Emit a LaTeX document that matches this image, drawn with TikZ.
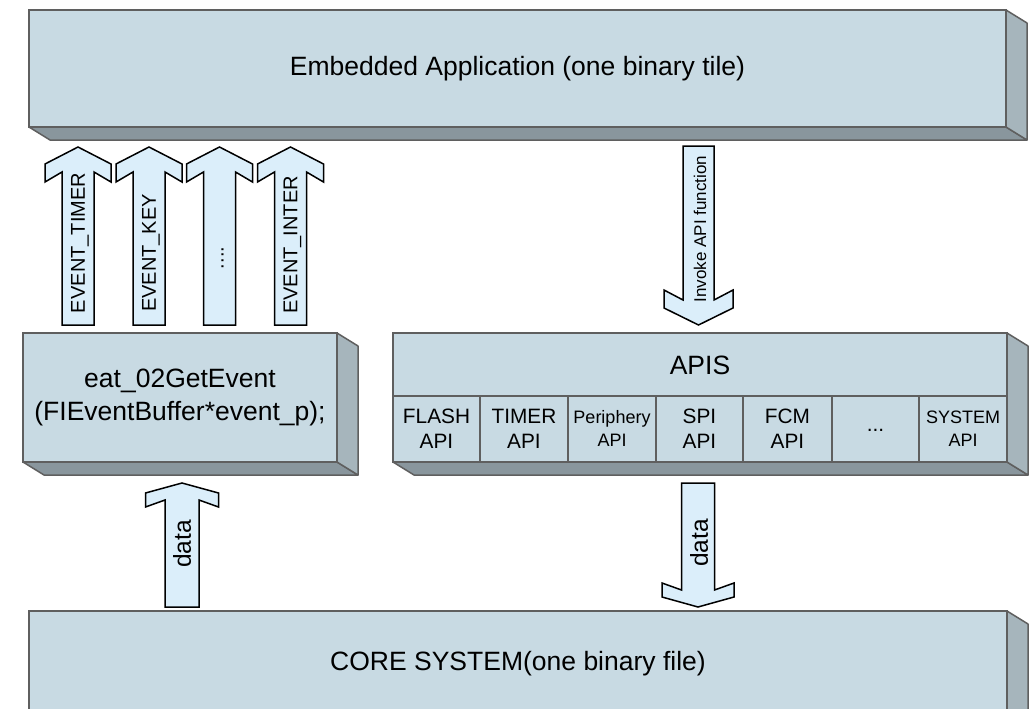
\documentclass[tikz,border=0pt]{standalone}
\usepackage{fontspec}
\setmainfont{Liberation Sans}
\usetikzlibrary{calc}

\definecolor{facefront}{HTML}{C8DAE3}
\definecolor{facebottom}{HTML}{89969D}
\definecolor{faceside}{HTML}{A6B5BC}
\definecolor{faceedge}{HTML}{5F5F5F}
\definecolor{arrowfill}{HTML}{DBEEFA}

\newcommand\fsz[2]{\fontsize{#1}{#2}\selectfont}

\tikzset{
  face/.style={draw=faceedge, fill=facefront, line width=1.5pt, inner sep=0pt,
    outer sep=0pt, rectangle, align=center},
  bottomface/.style={draw=faceedge, fill=facebottom, line width=1.5pt, line join=round},
  sideface/.style={draw=faceedge, fill=faceside, line width=1.5pt, line join=round},
  blockarrow/.style={draw=black, fill=arrowfill, line width=1.5pt, line join=miter},
  arrowtext/.style={inner sep=0pt, rotate=90},
  cell/.style={face, minimum height=66pt, font=\fsz{20.8}{25}},
  smallcell/.style={cell, font=\fsz{18}{23}},
}

% bottom and right faces of an extruded box
\newcommand\Extrude[1]{%
  \draw[bottomface] (#1.south west) -- (#1.south east) -- ++(21,13)
    -- ($(#1.south west)+(21,13)$) -- cycle;
  \draw[sideface] (#1.north east) -- ++(21,13) -- ($(#1.south east)+(21,13)$)
    -- (#1.south east) -- cycle;}

% block arrow pointing up: centre x, tip y, tail y, shaft half width,
% head half width, head side start, head side end, shaft junction
\newcommand\BlkUp[8]{%
  \draw[blockarrow] (#1,#2) -- (#1-#5,#2+#6) -- (#1-#5,#2+#7) -- (#1-#4,#2+#8)
    -- (#1-#4,#3) -- (#1+#4,#3) -- (#1+#4,#2+#8) -- (#1+#5,#2+#7)
    -- (#1+#5,#2+#6) -- cycle;}
% block arrow pointing down, same parameters
\newcommand\BlkDown[8]{%
  \draw[blockarrow] (#1,#2) -- (#1-#5,#2-#6) -- (#1-#5,#2-#7) -- (#1-#4,#2-#8)
    -- (#1-#4,#3) -- (#1+#4,#3) -- (#1+#4,#2-#8) -- (#1+#5,#2-#7)
    -- (#1+#5,#2-#6) -- cycle;}

\begin{document}
\begin{tikzpicture}[x=1pt, y=-1pt]
\clip (0,0) rectangle (1033,709);
\fill[white] (0,0) rectangle (1033,709);

% application tile
\node[face, minimum width=977pt, minimum height=117pt, font=\fsz{26.5}{32}]
  (app) at (517.5,68.5) {Embedded Application (one binary tile)};
\Extrude{app}

% event dispatcher
\node[face, minimum width=314pt, minimum height=129pt, font=\fsz{26.5}{33}]
  (getevent) at (180,397.5) {eat\_02GetEvent\\(FIEventBuffer*event\_p);};
\Extrude{getevent}

% API layer
\node[face, minimum width=614pt, minimum height=129pt] (apis) at (700,397.5) {};
\Extrude{apis}
\node[inner sep=0pt, font=\fsz{26.5}{32}] (apistitle) at (700,365.5) {APIS};
\node[cell, minimum width=87pt] (cflash) at (436.5,429) {FLASH\\API};
\node[cell, minimum width=88pt] (ctimer) at (524,429) {TIMER\\API};
\node[smallcell, minimum width=88pt] (cperiph) at (612,429) {\raisebox{1pt}{Periphery}\\\raisebox{1pt}{API}};
\node[cell, minimum width=87pt] (cspi) at (699.5,429) {SPI\\API};
\node[cell, minimum width=89pt] (cfcm) at (787.5,429) {FCM\\API};
\node[cell, minimum width=87pt] (cmore) at (875.5,429) {\raisebox{-4pt}{...}};
\node[smallcell, minimum width=88pt] (csystem) at (963,429) {SYSTEM\\API};

% core system
\node[face, minimum width=978pt, minimum height=105pt, font=\fsz{26.5}{32}]
  (core) at (518,663.5) {CORE SYSTEM(one binary file)};
\Extrude{core}

% events delivered to the application
\BlkUp{78}{147}{325}{16}{33}{17}{35}{25}
\BlkUp{149}{147}{325}{16}{33}{17}{35}{25}
\BlkUp{219.5}{147}{325}{16}{33}{17}{35}{25}
\BlkUp{290.5}{147}{325}{16}{33}{17}{35}{25}
\node[arrowtext, font=\fsz{20}{24}] (evtimer) at (80,243) {EVENT\_TIMER};
\node[arrowtext, font=\fsz{20}{24}] (evkey) at (151,253) {EVENT\_KEY};
\node[arrowtext, font=\fsz{20}{24}] (evmore) at (222.5,258) {....};
\node[arrowtext, font=\fsz{20}{24}] (evinter) at (292.5,245) {EVENT\_INTER};

% API invocation
\BlkDown{698.5}{325}{146}{15.5}{34.5}{17}{35}{25}
\node[arrowtext, font=\fsz{17}{20}] (invoke) at (700,229) {Invoke API function};

% data paths to and from the core
\BlkUp{182}{483}{607}{17}{36.5}{10}{24}{17}
\node[arrowtext, font=\fsz{24.5}{28}] (dataup) at (182,544) {data};
\BlkDown{698}{607}{483}{16.5}{36}{10}{24}{17}
\node[arrowtext, font=\fsz{24.5}{28}] (datadown) at (699,543) {data};
\end{tikzpicture}
\end{document}
